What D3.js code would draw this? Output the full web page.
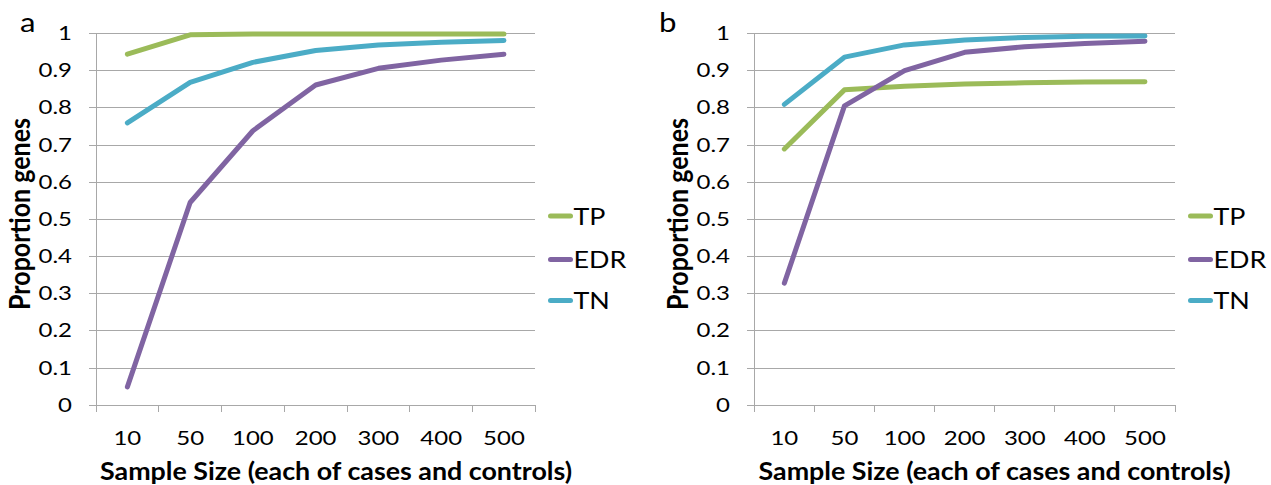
<!DOCTYPE html>
<html>
<head>
<meta charset="utf-8">
<script src="https://cdn.jsdelivr.net/npm/d3@7"></script>
<style>
  html, body { margin: 0; padding: 0; background: #fff; }
  svg { display: block; }
  text { font-family: Lato, "Open Sans", sans-serif; fill: #000; }
</style>
</head>
<body>
<svg id="chart" width="1271" height="485"></svg>
<script>
// ---- data ----
const categories = ["10", "50", "100", "200", "300", "400", "500"];
const yTickLabels = ["0", "0.1", "0.2", "0.3", "0.4", "0.5", "0.6", "0.7", "0.8", "0.9", "1"];
const seriesNames = ["TP", "EDR", "TN"];
const seriesColors = ["#9BBB59", "#8064A2", "#4BACC6"];

const panelA_TP  = [0.943, 0.995, 0.997, 0.997, 0.997, 0.997, 0.997];
const panelA_EDR = [0.048, 0.544, 0.737, 0.860, 0.905, 0.927, 0.943];
const panelA_TN  = [0.758, 0.867, 0.921, 0.953, 0.968, 0.975, 0.980];

const panelB_TP  = [0.688, 0.847, 0.857, 0.863, 0.866, 0.868, 0.869];
const panelB_EDR = [0.327, 0.804, 0.899, 0.948, 0.963, 0.972, 0.978];
const panelB_TN  = [0.808, 0.935, 0.968, 0.981, 0.988, 0.991, 0.992];

const xTitle = "Sample Size (each of cases and controls)";
const yTitle = "Proportion genes";

// ---- drawing ----
const svg = d3.select("#chart");
const SX = 1.2; // horizontal glyph stretch of the reference

function drawPanel(p) {
  const g = svg.append("g");
  const x = d3.scaleBand().domain(categories).range([p.left, p.right]).paddingInner(0).paddingOuter(0);
  const y = d3.scaleLinear().domain([0, 1]).range([404.7, 33]);
  const gridColor = "#a8a8a8";

  // gridlines + left ticks via axis
  const yTicks = yTickLabels.map(Number);
  const yAxis = d3.axisLeft(y).tickValues(yTicks).tickSize(-(p.right - p.left)).tickFormat("");
  const ya = g.append("g").attr("transform", `translate(${p.left},0)`).call(yAxis);
  ya.select(".domain").remove();
  ya.selectAll(".tick line").attr("stroke", gridColor).attr("stroke-width", 1)
    .attr("x1", -7).attr("shape-rendering", "crispEdges");

  // vertical axis line
  g.append("line").attr("x1", p.left).attr("x2", p.left).attr("y1", y(1)).attr("y2", y(0) + 7.5)
    .attr("stroke", gridColor).attr("shape-rendering", "crispEdges");

  // x ticks at band boundaries
  const bounds = categories.map(c => x(c)).concat([p.right]);
  g.selectAll(".xb").data(bounds).enter().append("line")
    .attr("x1", d => d).attr("x2", d => d).attr("y1", y(0)).attr("y2", y(0) + 7.5)
    .attr("stroke", gridColor).attr("shape-rendering", "crispEdges");

  // y tick labels
  g.selectAll(".yl").data(yTickLabels).enter().append("text")
    .attr("transform", d => `translate(${p.yLabelRight},${y(+d) + 7}) scale(${SX},1)`)
    .attr("text-anchor", "end").style("font-size", "20px").text(d => d);

  // x tick labels
  g.selectAll(".xl").data(categories).enter().append("text")
    .attr("transform", d => `translate(${x(d) + x.bandwidth() / 2},445) scale(${SX},1)`)
    .attr("text-anchor", "middle").style("font-size", "20px").text(d => d);

  // lines
  const line = d3.line().x((d, i) => x(categories[i]) + x.bandwidth() / 2).y(d => y(d));
  p.series.forEach((s, i) => {
    g.append("path").datum(s).attr("d", line).attr("fill", "none")
      .attr("stroke", seriesColors[i]).attr("stroke-width", 5)
      .attr("stroke-linecap", "round").attr("stroke-linejoin", "round");
  });

  // legend
  const legY = [216, 259.5, 300.5];
  seriesNames.forEach((n, i) => {
    g.append("line").attr("x1", p.legX).attr("x2", p.legX + 20).attr("y1", legY[i]).attr("y2", legY[i])
      .attr("stroke", seriesColors[i]).attr("stroke-width", 5).attr("stroke-linecap", "round");
    g.append("text").attr("transform", `translate(${p.legX + 23},${legY[i] + 8.5}) scale(1.12,1)`)
      .style("font-size", "24px").text(n);
  });

  // axis titles
  g.append("text").attr("x", p.xTitleC).attr("y", 480).attr("text-anchor", "middle")
    .style("font-size", "25px").style("font-weight", "bold")
    .attr("textLength", 472).attr("lengthAdjust", "spacingAndGlyphs").text(xTitle);
  g.append("text").attr("transform", `translate(${p.yTitleX},214) rotate(-90) scale(1,1.15)`)
    .attr("text-anchor", "middle").style("font-size", "24px").style("font-weight", "bold")
    .attr("textLength", 192).attr("lengthAdjust", "spacingAndGlyphs").text(yTitle);

  // panel label
  g.append("text").attr("transform", `translate(${p.labX},32) scale(${SX},1)`)
    .style("font-size", "26px").text(p.label);
}

drawPanel({
  left: 96, right: 535.3, yLabelRight: 72, legX: 550.5, xTitleC: 336, yTitleX: 30, labX: 20, label: "a",
  series: [panelA_TP, panelA_EDR, panelA_TN]
});
drawPanel({
  left: 754.3, right: 1175, yLabelRight: 730, legX: 1190.5, xTitleC: 994.5, yTitleX: 688, labX: 659, label: "b",
  series: [panelB_TP, panelB_EDR, panelB_TN]
});
</script>
</body>
</html>
